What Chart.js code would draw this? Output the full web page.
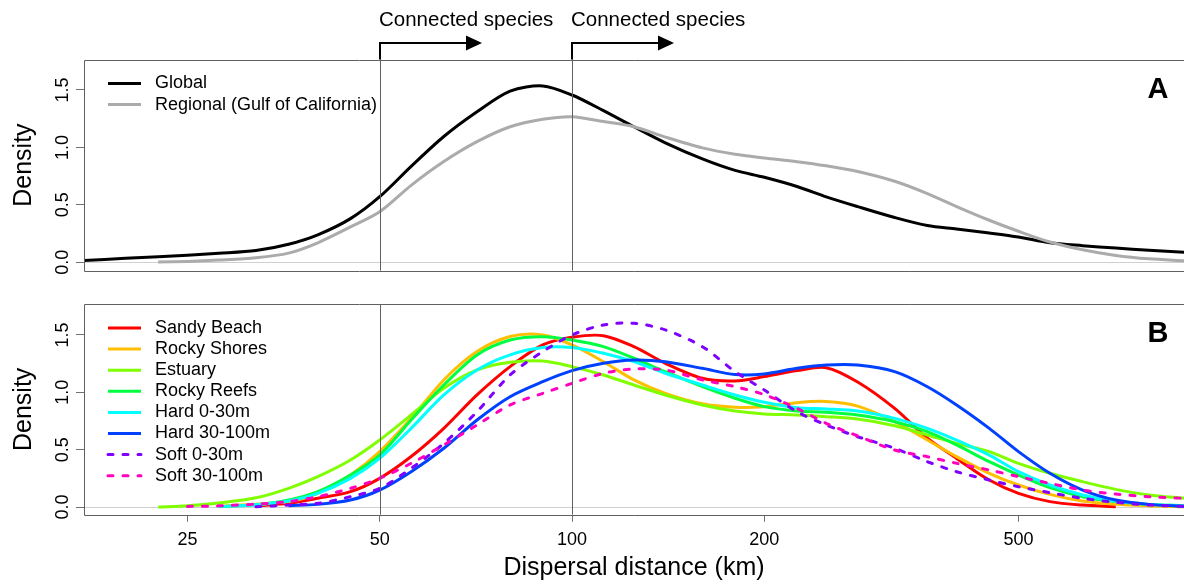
<!DOCTYPE html>
<html>
<head>
<meta charset="utf-8">
<script src="https://cdn.jsdelivr.net/npm/chart.js@4.4.1/dist/chart.umd.min.js"></script>
<style>
html, body { margin: 0; padding: 0; background: #fff; overflow: hidden; }
#wrap { position: relative; width: 1184px; height: 585px; }
canvas { position: absolute; left: 0; }
#chartA { top: 0; }
#chartB { top: 290px; }
</style>
</head>
<body>
<div id="wrap">
  <canvas id="chartA" width="1184" height="290"></canvas>
  <canvas id="chartB" width="1184" height="295"></canvas>
</div>
<script>
const distanceKm = [17.2, 20, 22.5, 25, 28, 32, 36, 40, 45, 50, 56, 63, 71, 80, 90, 100, 112, 125, 140, 160,
                    180, 200, 225, 250, 280, 320, 360, 400, 450, 500, 560, 630, 710, 800, 908];

// panel A
const globalDensity   = [0.015, 0.035, 0.048, 0.062, 0.078, 0.102, 0.157, 0.239, 0.38, 0.571, 0.835, 1.095, 1.31, 1.49, 1.535, 1.456, 1.32, 1.18, 1.04, 0.90,
                         0.80, 0.74, 0.66, 0.57, 0.485, 0.39, 0.32, 0.29, 0.255, 0.22, 0.17, 0.145, 0.124, 0.105, 0.087];
const regionalDensity = [null, null, 0.002, 0.008, 0.02, 0.04, 0.08, 0.17, 0.308, 0.44, 0.67, 0.877, 1.05, 1.18, 1.245, 1.267, 1.225, 1.18, 1.09, 0.996,
                         0.94, 0.908, 0.876, 0.84, 0.79, 0.705, 0.598, 0.485, 0.366, 0.27, 0.177, 0.11, 0.06, 0.03, 0.014];

// panel B
const sandyBeach  = [null, null, null, null, null, 0.01, 0.032, 0.076, 0.134, 0.25, 0.44, 0.686, 0.977, 1.224, 1.413, 1.48, 1.494, 1.398, 1.253, 1.122,
                     1.099, 1.137, 1.189, 1.215, 1.09, 0.86, 0.6, 0.424, 0.235, 0.119, 0.047, 0.017, 0.003, null, null];
const rockyShores = [null, null, null, null, 0.005, 0.025, 0.047, 0.119, 0.279, 0.483, 0.773, 1.108, 1.355, 1.486, 1.5, 1.413, 1.267, 1.108, 0.991, 0.90,
                     0.87, 0.875, 0.91, 0.92, 0.88, 0.744, 0.584, 0.439, 0.294, 0.192, 0.11, 0.052, 0.023, 0.01, 0.003];
const estuary     = [null, null, 0.0, 0.01, 0.035, 0.08, 0.163, 0.265, 0.41, 0.584, 0.802, 1.035, 1.195, 1.262, 1.273, 1.224, 1.151, 1.064, 0.977, 0.89,
                     0.837, 0.812, 0.802, 0.788, 0.767, 0.709, 0.628, 0.555, 0.483, 0.381, 0.294, 0.221, 0.154, 0.105, 0.076];
const rockyReefs  = [null, null, null, null, 0.004, 0.02, 0.061, 0.134, 0.279, 0.453, 0.759, 1.064, 1.326, 1.456, 1.485, 1.456, 1.398, 1.297, 1.18, 1.049,
                     0.948, 0.875, 0.837, 0.826, 0.802, 0.744, 0.657, 0.541, 0.395, 0.279, 0.169, 0.09, 0.047, 0.023, 0.012];
const hard0to30   = [null, null, null, null, 0.003, 0.02, 0.052, 0.119, 0.25, 0.424, 0.686, 0.977, 1.195, 1.326, 1.39, 1.39, 1.34, 1.267, 1.166, 1.064,
                     0.977, 0.913, 0.866, 0.855, 0.837, 0.773, 0.686, 0.584, 0.453, 0.308, 0.192, 0.105, 0.052, 0.023, 0.009];
const hard30to100 = [null, null, null, null, null, null, 0.012, 0.023, 0.061, 0.148, 0.308, 0.512, 0.759, 0.962, 1.093, 1.189, 1.253, 1.282, 1.267, 1.209,
                     1.155, 1.16, 1.209, 1.238, 1.238, 1.18, 1.049, 0.89, 0.686, 0.483, 0.294, 0.148, 0.061, 0.023, 0.006];
const soft0to30   = [null, null, null, null, null, 0.003, 0.017, 0.032, 0.09, 0.163, 0.337, 0.555, 0.831, 1.151, 1.355, 1.5, 1.587, 1.602, 1.544, 1.398,
                     1.18, 1.02, 0.831, 0.715, 0.613, 0.512, 0.395, 0.308, 0.235, 0.177, 0.125, 0.076, 0.041, 0.017, 0.006];
const soft30to100 = [null, null, null, 0.005, 0.01, 0.025, 0.047, 0.09, 0.163, 0.25, 0.381, 0.541, 0.715, 0.89, 0.991, 1.078, 1.166, 1.203, 1.195, 1.108,
                     1.049, 0.98, 0.86, 0.73, 0.62, 0.497, 0.439, 0.381, 0.323, 0.265, 0.206, 0.148, 0.113, 0.09, 0.076];

const habitatLabels = ['Sandy Beach', 'Rocky Shores', 'Estuary', 'Rocky Reefs', 'Hard 0-30m', 'Hard 30-100m', 'Soft 0-30m', 'Soft 30-100m'];
const habitatSeries = [sandyBeach, rockyShores, estuary, rockyReefs, hard0to30, hard30to100, soft0to30, soft30to100];
const habitatColors = ['#FF0000', '#FFBF00', '#80FF00', '#00FF40', '#00FFFF', '#0040FF', '#8000FF', '#FF00BF'];

const xTickValues = [25, 50, 100, 200, 500];
const yTickValues = [0, 0.5, 1.0, 1.5];
const cutoffKm = [50, 100];

const FONT = "'Liberation Sans', Arial, sans-serif";

function toPoints(arr) {
    return distanceKm.map((d, i) => ({x: d, y: arr[i]}));
}

// box, cut-off lines, zero line, legend and panel letter
const panelDecor = {
    id: 'panelDecor',
    beforeDatasetsDraw(chart) {
        const {ctx, chartArea: a, scales: {y}} = chart;
        const y0 = Math.round(y.getPixelForValue(0)) + 0.5;
        ctx.save();
        ctx.strokeStyle = '#cfcfcf';
        ctx.lineWidth = 1;
        ctx.beginPath(); ctx.moveTo(a.left, y0); ctx.lineTo(a.right, y0); ctx.stroke();
        ctx.restore();
    },
    afterDatasetsDraw(chart, args, opts) {
        const {ctx, chartArea: a, scales: {x}} = chart;
        ctx.save();
        ctx.strokeStyle = '#606060';
        ctx.lineWidth = 1;
        cutoffKm.forEach(km => {
            const px = Math.round(x.getPixelForValue(km)) + 0.5;
            ctx.beginPath(); ctx.moveTo(px, a.top); ctx.lineTo(px, a.bottom); ctx.stroke();
        });
        const t = Math.round(a.top) + 0.5, b = Math.round(a.bottom) + 0.5, l = Math.round(a.left) + 0.5;
        ctx.beginPath();
        ctx.moveTo(a.right, t); ctx.lineTo(l, t); ctx.lineTo(l, b); ctx.lineTo(a.right, b);
        ctx.stroke();

        if (opts.arrows) {
            ctx.strokeStyle = '#000';
            ctx.fillStyle = '#000';
            ctx.lineWidth = 2;
            ctx.font = '20.5px ' + FONT;
            ctx.textAlign = 'left';
            ctx.textBaseline = 'alphabetic';
            cutoffKm.forEach(km => {
                const px = Math.round(x.getPixelForValue(km));
                ctx.beginPath();
                ctx.moveTo(px, a.top); ctx.lineTo(px, 43); ctx.lineTo(px + 88, 43);
                ctx.stroke();
                ctx.beginPath();
                ctx.moveTo(px + 86, 35.5); ctx.lineTo(px + 102, 43); ctx.lineTo(px + 86, 50.5);
                ctx.closePath(); ctx.fill();
                ctx.fillText('Connected species', px - 1, 26);
            });
        }

        // legend
        ctx.font = '18px ' + FONT;
        ctx.textAlign = 'left';
        ctx.textBaseline = 'middle';
        chart.data.datasets.forEach((d, i) => {
            const ly = a.top + 24 + i * 21.1;
            ctx.strokeStyle = d.borderColor;
            ctx.lineWidth = 3;
            ctx.setLineDash(d.borderDash || []);
            ctx.lineCap = d.borderDash ? 'round' : 'butt';
            ctx.beginPath(); ctx.moveTo(a.left + 24, ly); ctx.lineTo(a.left + 57, ly); ctx.stroke();
            ctx.fillStyle = '#000';
            ctx.fillText(d.label, a.left + 71, ly);
        });
        ctx.setLineDash([]);

        ctx.font = 'bold 29px ' + FONT;
        ctx.textAlign = 'center';
        ctx.fillText(opts.letter, 1158, a.top + 30);
        ctx.restore();
    }
};

function xScale(showLabels, axisHeight) {
    return {
        type: 'logarithmic',
        min: 17.22,
        max: 908,
        afterBuildTicks: s => { s.ticks = xTickValues.map(v => ({value: v})); },
        afterFit: s => { s.height = axisHeight; },
        border: {display: false},
        grid: {display: showLabels, drawOnChartArea: false, drawTicks: true, tickLength: 7, color: '#707070'},
        ticks: {display: showLabels, autoSkip: false, minRotation: 0, maxRotation: 0, padding: 8, color: '#000',
                font: {family: FONT, size: 18}, callback: v => String(v)},
        title: {display: showLabels, text: 'Dispersal distance (km)', color: '#000',
                font: {family: FONT, size: 25}, padding: {top: 0, bottom: 2}}
    };
}

function yScale(min, max) {
    return {
        type: 'linear',
        min: min,
        max: max,
        afterBuildTicks: s => { s.ticks = yTickValues.map(v => ({value: v})); },
        afterFit: s => { s.width = 84; },
        border: {display: false},
        grid: {drawOnChartArea: false, drawTicks: true, tickLength: 8, color: '#707070'},
        ticks: {minRotation: 90, maxRotation: 90, crossAlign: 'center', padding: 0, color: '#000',
                font: {family: FONT, size: 18}, callback: v => v.toFixed(1)},
        title: {display: true, text: 'Density', color: '#000', font: {family: FONT, size: 25}, padding: {top: 9, bottom: 0}}
    };
}

function lineSet(label, arr, color, i, dotted) {
    return {
        label: label,
        data: toPoints(arr),
        borderColor: color,
        backgroundColor: color,
        borderWidth: 3,
        borderDash: dotted ? [5, 10] : undefined,
        borderCapStyle: dotted ? 'round' : 'butt',
        pointRadius: 0,
        fill: false,
        tension: 0.3,
        spanGaps: false,
        order: -i
    };
}

const baseOptions = {
    responsive: false,
    animation: false,
    devicePixelRatio: 1,
    events: []
};

new Chart(document.getElementById('chartA').getContext('2d'), {
    type: 'line',
    data: {
        datasets: [
            lineSet('Global', globalDensity, '#000000', 0, false),
            lineSet('Regional (Gulf of California)', regionalDensity, '#ababab', 1, false)
        ]
    },
    options: Object.assign({}, baseOptions, {
        layout: {padding: {top: 59.5, left: 0, right: 0, bottom: 0}},
        scales: {x: xScale(false, 19.3), y: yScale(-0.073, 1.765)},
        plugins: {legend: {display: false}, tooltip: {enabled: false}, panelDecor: {letter: 'A', arrows: true}}
    }),
    plugins: [panelDecor]
});

new Chart(document.getElementById('chartB').getContext('2d'), {
    type: 'line',
    data: {
        datasets: habitatLabels.map((lab, i) => lineSet(lab, habitatSeries[i], habitatColors[i], i, i >= 6))
    },
    options: Object.assign({}, baseOptions, {
        layout: {padding: {top: 14, left: 0, right: 0, bottom: 0}},
        scales: {x: xScale(true, 70.3), y: yScale(-0.067, 1.770)},
        plugins: {legend: {display: false}, tooltip: {enabled: false}, panelDecor: {letter: 'B', arrows: false}}
    }),
    plugins: [panelDecor]
});
</script>
</body>
</html>
